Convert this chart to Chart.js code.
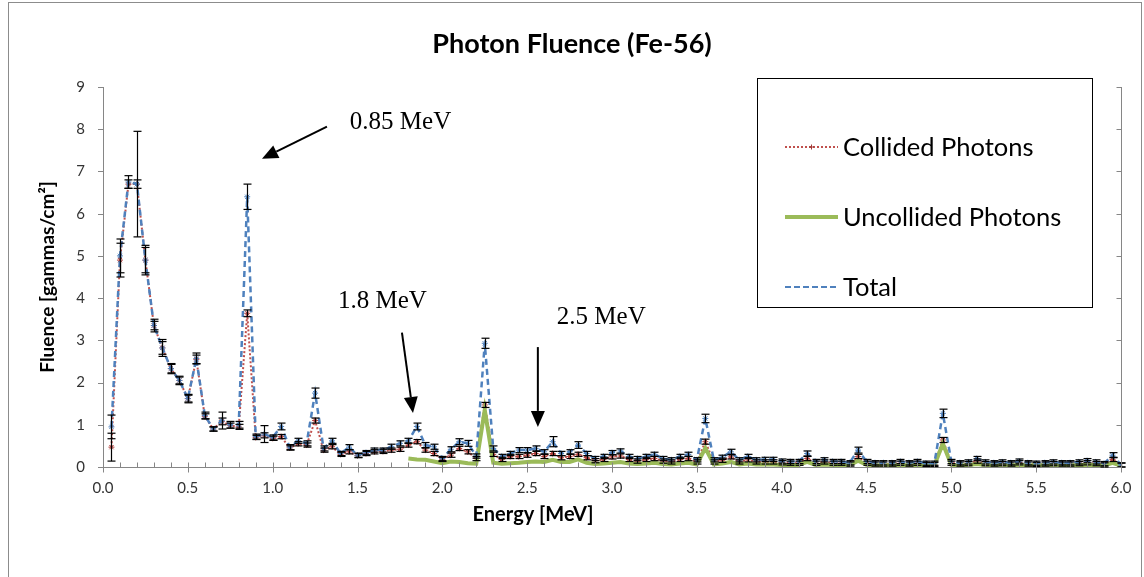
<!DOCTYPE html>
<html>
<head>
<meta charset="utf-8">
<title>Photon Fluence (Fe-56)</title>
<script src="https://cdn.jsdelivr.net/npm/chart.js@4.4.1/dist/chart.umd.min.js"></script>
<style>
  html, body { margin: 0; padding: 0; background: #fff; }
  #wrap { width: 1144px; height: 577px; position: relative; overflow: hidden; }
</style>
</head>
<body>
<div id="wrap"><canvas id="fluence" width="1144" height="577"></canvas></div>
<script>
// energies [MeV], one bin every 0.05
var energy = [
  0.05, 0.10, 0.15, 0.20, 0.25, 0.30, 0.35, 0.40, 0.45, 0.50,
  0.55, 0.60, 0.65, 0.70, 0.75, 0.80, 0.85, 0.90, 0.95, 1.00,
  1.05, 1.10, 1.15, 1.20, 1.25, 1.30, 1.35, 1.40, 1.45, 1.50,
  1.55, 1.60, 1.65, 1.70, 1.75, 1.80, 1.85, 1.90, 1.95, 2.00,
  2.05, 2.10, 2.15, 2.20, 2.25, 2.30, 2.35, 2.40, 2.45, 2.50,
  2.55, 2.60, 2.65, 2.70, 2.75, 2.80, 2.85, 2.90, 2.95, 3.00,
  3.05, 3.10, 3.15, 3.20, 3.25, 3.30, 3.35, 3.40, 3.45, 3.50,
  3.55, 3.60, 3.65, 3.70, 3.75, 3.80, 3.85, 3.90, 3.95, 4.00,
  4.05, 4.10, 4.15, 4.20, 4.25, 4.30, 4.35, 4.40, 4.45, 4.50,
  4.55, 4.60, 4.65, 4.70, 4.75, 4.80, 4.85, 4.90, 4.95, 5.00,
  5.05, 5.10, 5.15, 5.20, 5.25, 5.30, 5.35, 5.40, 5.45, 5.50,
  5.55, 5.60, 5.65, 5.70, 5.75, 5.80, 5.85, 5.90, 5.95, 6.00
];

var collided = [
  0.47, 4.9, 6.7, 6.7, 4.9, 3.35, 2.82, 2.33, 2.05, 1.62,
  2.55, 1.2, 0.9, 1.08, 0.98, 0.95, 3.64, 0.7, 0.75, 0.68,
  0.72, 0.45, 0.55, 0.52, 1.1, 0.4, 0.48, 0.3, 0.36, 0.27,
  0.32, 0.36, 0.37, 0.4, 0.42, 0.52, 0.6, 0.4, 0.32, 0.18,
  0.28, 0.44, 0.36, 0.2, 1.47, 0.3, 0.18, 0.25, 0.25, 0.28,
  0.32, 0.25, 0.32, 0.22, 0.25, 0.3, 0.22, 0.15, 0.18, 0.24,
  0.26, 0.18, 0.14, 0.18, 0.2, 0.14, 0.12, 0.18, 0.2, 0.12,
  0.6, 0.12, 0.16, 0.24, 0.12, 0.17, 0.12, 0.12, 0.12, 0.1,
  0.09, 0.09, 0.2, 0.09, 0.12, 0.09, 0.09, 0.07, 0.25, 0.09,
  0.07, 0.07, 0.07, 0.09, 0.07, 0.09, 0.06, 0.06, 0.64, 0.09,
  0.07, 0.08, 0.14, 0.08, 0.07, 0.08, 0.07, 0.1, 0.07, 0.06,
  0.07, 0.08, 0.07, 0.07, 0.08, 0.1, 0.08, 0.05, 0.18, 0.04
];

var uncollided = [
  null, null, null, null, null, null, null, null, null, null,
  null, null, null, null, null, null, null, null, null, null,
  null, null, null, null, null, null, null, null, null, null,
  null, null, null, null, null, 0.2, 0.18, 0.17, 0.13, 0.09,
  0.13, 0.12, 0.09, 0.08, 1.35, 0.1, 0.08, 0.09, 0.1, 0.12,
  0.13, 0.12, 0.17, 0.12, 0.12, 0.18, 0.1, 0.07, 0.08, 0.1,
  0.12, 0.08, 0.07, 0.08, 0.1, 0.07, 0.06, 0.08, 0.1, 0.06,
  0.45, 0.06, 0.08, 0.12, 0.06, 0.08, 0.06, 0.06, 0.06, 0.05,
  0.05, 0.05, 0.12, 0.05, 0.06, 0.05, 0.05, 0.04, 0.15, 0.05,
  0.04, 0.04, 0.04, 0.05, 0.04, 0.05, 0.04, 0.04, 0.55, 0.05,
  0.04, 0.05, 0.07, 0.05, 0.04, 0.05, 0.04, 0.05, 0.04, 0.04,
  0.04, 0.05, 0.04, 0.04, 0.05, 0.05, 0.05, 0.03, 0.1, 0.03
];

var total = [
  0.95, 5.0, 6.75, 6.7, 4.9, 3.35, 2.82, 2.33, 2.05, 1.62,
  2.57, 1.22, 0.9, 1.1, 1.0, 1.0, 6.4, 0.72, 0.78, 0.7,
  0.96, 0.47, 0.62, 0.56, 1.75, 0.44, 0.62, 0.32, 0.47, 0.28,
  0.34, 0.4, 0.4, 0.48, 0.56, 0.62, 0.96, 0.52, 0.48, 0.2,
  0.42, 0.6, 0.56, 0.26, 2.93, 0.44, 0.25, 0.32, 0.4, 0.4,
  0.44, 0.36, 0.6, 0.32, 0.36, 0.52, 0.32, 0.2, 0.25, 0.34,
  0.38, 0.25, 0.2, 0.25, 0.3, 0.2, 0.17, 0.25, 0.3, 0.17,
  1.15, 0.17, 0.23, 0.36, 0.17, 0.25, 0.17, 0.18, 0.18, 0.14,
  0.13, 0.13, 0.32, 0.13, 0.17, 0.13, 0.13, 0.1, 0.4, 0.13,
  0.1, 0.1, 0.1, 0.13, 0.1, 0.13, 0.09, 0.09, 1.27, 0.13,
  0.1, 0.12, 0.2, 0.12, 0.1, 0.12, 0.1, 0.14, 0.1, 0.09,
  0.1, 0.12, 0.1, 0.1, 0.12, 0.15, 0.12, 0.08, 0.28, 0.05
];

// half widths of the error bars
var errTotal = [
  0.28, 0.4, 0.15, 1.25, 0.35, 0.15, 0.2, 0.12, 0.1, 0.1,
  0.13, 0.08, 0.05, 0.2, 0.08, 0.08, 0.3, 0.06, 0.2, 0.06,
  0.08, 0.06, 0.06, 0.06, 0.12, 0.06, 0.06, 0.05, 0.06, 0.05,
  0.05, 0.05, 0.05, 0.06, 0.06, 0.06, 0.08, 0.06, 0.06, 0.05,
  0.06, 0.07, 0.07, 0.05, 0.12, 0.06, 0.05, 0.05, 0.06, 0.06,
  0.06, 0.05, 0.12, 0.05, 0.05, 0.08, 0.05, 0.05, 0.05, 0.05,
  0.05, 0.05, 0.05, 0.05, 0.05, 0.05, 0.05, 0.05, 0.05, 0.05,
  0.1, 0.05, 0.05, 0.06, 0.05, 0.05, 0.05, 0.05, 0.05, 0.05,
  0.05, 0.05, 0.06, 0.05, 0.05, 0.05, 0.05, 0.05, 0.07, 0.05,
  0.05, 0.05, 0.05, 0.05, 0.05, 0.05, 0.05, 0.05, 0.1, 0.05,
  0.05, 0.05, 0.05, 0.05, 0.05, 0.05, 0.05, 0.05, 0.05, 0.05,
  0.05, 0.05, 0.05, 0.05, 0.05, 0.05, 0.05, 0.05, 0.06, 0.05
];

var errCollided = [
  0.33, 0.4, 0.1, 0.1, 0.3, 0.1, 0.15, 0.1, 0.08, 0.08,
  0.1, 0.06, 0.05, 0.08, 0.06, 0.06, 0.08, 0.05, 0.06, 0.05,
  0.05, 0.05, 0.05, 0.05, 0.06, 0.05, 0.05, 0.05, 0.05, 0.05,
  0.05, 0.05, 0.05, 0.05, 0.05, 0.05, 0.05, 0.05, 0.05, 0.05,
  0.05, 0.05, 0.05, 0.05, 0.06, 0.05, 0.05, 0.05, 0.05, 0.05,
  0.05, 0.05, 0.05, 0.05, 0.05, 0.05, 0.05, 0.05, 0.05, 0.05,
  0.05, 0.05, 0.05, 0.05, 0.05, 0.05, 0.05, 0.05, 0.05, 0.05,
  0.06, 0.05, 0.05, 0.05, 0.05, 0.05, 0.05, 0.05, 0.05, 0.05,
  0.05, 0.05, 0.05, 0.05, 0.05, 0.05, 0.05, 0.05, 0.05, 0.05,
  0.05, 0.05, 0.05, 0.05, 0.05, 0.05, 0.05, 0.05, 0.06, 0.05,
  0.05, 0.05, 0.05, 0.05, 0.05, 0.05, 0.05, 0.05, 0.05, 0.05,
  0.05, 0.05, 0.05, 0.05, 0.05, 0.05, 0.05, 0.05, 0.05, 0.05
];

var seriesNames = ['Collided Photons', 'Uncollided Photons', 'Total'];

// arrows with their labels, in data units
var notes = [
  { text: '0.85 MeV', at: [1.455, 8.15], from: [1.32, 8.06], to: [0.937, 7.30] },
  { text: '1.8 MeV',  at: [1.385, 3.91], from: [1.762, 3.18], to: [1.827, 1.28] },
  { text: '2.5 MeV',  at: [2.675, 3.55], from: [2.563, 2.84], to: [2.563, 0.95] }
];

var RED = '#C0504D', GREEN = '#9BBB59', BLUE = '#4F81BD', AXIS = '#868686';

function xy(values) {
  return energy.map(function (e, i) { return { x: e, y: values[i] }; });
}

function line(ctx, x1, y1, x2, y2) {
  ctx.beginPath(); ctx.moveTo(x1, y1); ctx.lineTo(x2, y2); ctx.stroke();
}

var extras = {
  id: 'extras',
  beforeDraw: function (chart) {
    var ctx = chart.ctx;
    ctx.save();
    ctx.strokeStyle = '#8c8c8c';
    ctx.lineWidth = 1;
    ctx.strokeRect(8.5, 2.5, 1133, 620);
    ctx.restore();
  },
  afterDatasetsDraw: function (chart) {
    var ctx = chart.ctx, xs = chart.scales.x, ys = chart.scales.y, a = chart.chartArea;
    ctx.save();
    // error bars
    ctx.strokeStyle = '#000';
    ctx.lineWidth = 1.2;
    [[total, errTotal], [collided, errCollided]].forEach(function (s) {
      s[0].forEach(function (v, i) {
        var px = Math.round(xs.getPixelForValue(energy[i])) + 0.5;
        var hi = ys.getPixelForValue(v + s[1][i]);
        var lo = ys.getPixelForValue(Math.max(0, v - s[1][i]));
        line(ctx, px, hi, px, lo);
        line(ctx, px - 4, hi, px + 4, hi);
        line(ctx, px - 4, lo, px + 4, lo);
      });
    });
    // tick marks
    ctx.strokeStyle = AXIS;
    ctx.lineWidth = 1;
    var b = a.bottom + 0.5;
    xs.ticks.forEach(function (t) {
      var px = Math.round(xs.getPixelForValue(t.value)) + 0.5;
      line(ctx, px, b - 5, px, b + 5);
    });
    for (var k = 1; k < 60; k++) {
      if (k % 5 === 0) continue;
      var px = Math.round(xs.getPixelForValue(k / 10)) + 0.5;
      line(ctx, px, b - 5, px, b);
    }
    var r = Math.round(a.right) + 0.5;
    line(ctx, r, a.top, r, a.bottom);
    ys.ticks.forEach(function (t) {
      var py = Math.round(ys.getPixelForValue(t.value)) + 0.5;
      line(ctx, a.left - 5, py, a.left, py);
      line(ctx, r - 5, py, r, py);
    });
    ctx.restore();
  },
  afterDraw: function (chart) {
    var ctx = chart.ctx, xs = chart.scales.x, ys = chart.scales.y;
    ctx.save();

    // chart title and x axis title
    ctx.fillStyle = '#000';
    ctx.textAlign = 'center';
    ctx.textBaseline = 'middle';
    ctx.font = 'bold 27px Lato';
    ctx.fillText('Photon Fluence (Fe-56)', 572, 44);
    ctx.font = 'bold 20px Lato';
    ctx.fillText('Energy [MeV]', 533, 515);

    // annotations
    ctx.font = '25px "Liberation Serif"';
    ctx.textAlign = 'left';
    ctx.strokeStyle = '#000';
    ctx.lineWidth = 2;
    notes.forEach(function (n) {
      ctx.fillText(n.text, xs.getPixelForValue(n.at[0]), ys.getPixelForValue(n.at[1]));
      var x1 = xs.getPixelForValue(n.from[0]), y1 = ys.getPixelForValue(n.from[1]);
      var x2 = xs.getPixelForValue(n.to[0]), y2 = ys.getPixelForValue(n.to[1]);
      var ang = Math.atan2(y2 - y1, x2 - x1), hl = 16, hw = 7;
      var bx = x2 - hl * Math.cos(ang), by = y2 - hl * Math.sin(ang);
      line(ctx, x1, y1, bx, by);
      ctx.beginPath();
      ctx.moveTo(x2, y2);
      ctx.lineTo(bx + hw * Math.sin(ang), by - hw * Math.cos(ang));
      ctx.lineTo(bx - hw * Math.sin(ang), by + hw * Math.cos(ang));
      ctx.closePath();
      ctx.fill();
    });

    // legend
    ctx.fillStyle = '#fff';
    ctx.fillRect(757, 78, 335, 229);
    ctx.strokeStyle = '#000';
    ctx.lineWidth = 1;
    ctx.strokeRect(757.5, 78.5, 335, 229);
    var rows = [147, 217, 287];
    ctx.font = '25.5px Lato';
    ctx.textAlign = 'left';
    ctx.fillStyle = '#000';
    seriesNames.forEach(function (name, i) {
      var y = rows[i];
      ctx.save();
      if (i === 0) { ctx.strokeStyle = RED; ctx.lineWidth = 2; ctx.setLineDash([2, 2]); }
      if (i === 1) { ctx.strokeStyle = GREEN; ctx.lineWidth = 4; }
      if (i === 2) { ctx.strokeStyle = BLUE; ctx.lineWidth = 2; ctx.setLineDash([6, 3]); }
      line(ctx, 785, y, 838, y);
      if (i === 0) {
        ctx.setLineDash([]);
        ctx.lineWidth = 1;
        ctx.strokeStyle = '#a03a37';
        line(ctx, 809, y, 814, y);
        line(ctx, 811.5, y - 2.5, 811.5, y + 2.5);
      }
      ctx.restore();
      ctx.fillText(name, 843, y + 1);
    });
    ctx.restore();
  }
};

var ctx = document.getElementById('fluence');
var fluenceChart = new Chart(ctx, {
  type: 'line',
  data: {
    datasets: [{
      label: seriesNames[0],
      data: xy(collided),
      borderColor: RED,
      borderWidth: 2,
      borderDash: [2, 2],
      pointStyle: 'star',
      pointRadius: 3,
      pointBorderColor: '#b03c39',
      pointBorderWidth: 1,
      tension: 0,
      order: 2
    }, {
      label: seriesNames[1],
      data: xy(uncollided),
      borderColor: GREEN,
      borderWidth: 4,
      pointRadius: 0,
      tension: 0,
      order: 1
    }, {
      label: seriesNames[2],
      data: xy(total),
      borderColor: BLUE,
      borderWidth: 2.5,
      borderDash: [6, 4],
      pointStyle: 'star',
      pointRadius: 3,
      pointBorderColor: BLUE,
      pointBorderWidth: 1,
      tension: 0,
      order: 0
    }]
  },
  options: {
    responsive: false,
    animation: false,
    events: [],
    layout: { padding: { top: 87, right: 23, left: 0, bottom: 0 } },
    plugins: {
      legend: { display: false },
      tooltip: { enabled: false },
      title: { display: false }
    },
    scales: {
      x: {
        type: 'linear',
        min: 0,
        max: 6,
        grid: { drawOnChartArea: false, drawTicks: false },
        border: { color: AXIS },
        ticks: {
          stepSize: 0.5,
          autoSkip: false,
          maxRotation: 0,
          padding: 12,
          color: '#333',
          font: { family: 'Lato', size: 15 },
          callback: function (v) { return v.toFixed(1); }
        },
        afterFit: function (s) { s.height = 110; }
      },
      y: {
        min: 0,
        max: 9,
        grid: { drawOnChartArea: false, drawTicks: false },
        border: { color: AXIS },
        ticks: {
          stepSize: 1,
          padding: 18,
          color: '#333',
          font: { family: 'Lato', size: 15 }
        },
        title: {
          display: true,
          text: 'Fluence [gammas/cm²]',
          color: '#000',
          font: { family: 'Lato', size: 19, weight: 'bold' },
          padding: { top: 36, bottom: 0 }
        },
        afterFit: function (s) { s.width = 103; }
      }
    }
  },
  plugins: [extras]
});
</script>
</body>
</html>
